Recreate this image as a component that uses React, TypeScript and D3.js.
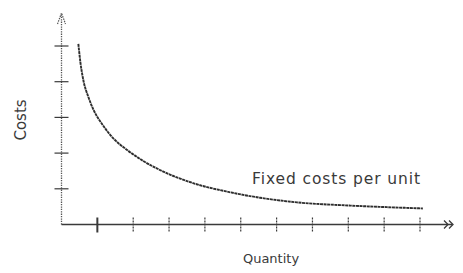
import { scaleLinear, line, curveMonotoneX, range } from 'd3'

const width = 463,
      height = 273,
      xLabel = 'Quantity',
      yLabel = 'Costs',
      seriesLabel = 'Fixed costs per unit'

// quantity ticks 1..10, cost ticks 1..5 (no numbers shown)
const xTicks = range(1, 11)
const yTicks = range(1, 6)

// points
const quantity = [0.47, 0.53, 0.61, 0.75, 0.89, 1.17, 1.44, 1.84, 2.28, 2.76, 3.67, 4.62, 5.54, 6.57, 8.05, 8.97, 10.08]
const unitCost = [5.06, 4.52, 4.04, 3.57, 3.22, 2.76, 2.42, 2.08, 1.78, 1.52, 1.16, 0.92, 0.75, 0.62, 0.53, 0.49, 0.45]

const xScale = scaleLinear().domain([0, 10]).range([61.5, 420])
const yScale = scaleLinear().domain([0, 5]).range([224.5, 46])

const ink = '#3a3a3a'

const YAxis = () => (
  <g>
    <line x1={xScale(0)} x2={xScale(0)} y1={yScale(0)} y2={15}
      stroke='#555' strokeWidth='1.3' strokeDasharray='1.3,1.1' />
    <path d={`M${xScale(0) - 4},24 L${xScale(0)},13 L${xScale(0) + 4},24`}
      fill='none' stroke='#555' strokeWidth='1.2' strokeDasharray='1.5,1' />
    {yTicks.map(t => (
      <line key={t} x1={xScale(0) - 7} x2={xScale(0) + 7} y1={yScale(t)} y2={yScale(t)}
        stroke={ink} strokeWidth='1.2' />
    ))}
  </g>
)

const XAxis = () => (
  <g>
    <line x1={xScale(0)} x2={452} y1={yScale(0)} y2={yScale(0)} stroke={ink} strokeWidth='1.3' />
    {xTicks.map((t, i) => (
      <line key={t} x1={xScale(t)} x2={xScale(t)} y1={yScale(0) - 7} y2={yScale(0) + 8}
        stroke={ink} strokeWidth={i === 0 ? 2 : 1.2} strokeDasharray={i === 0 ? undefined : '2,1'} />
    ))}
    <path d={`M444,${yScale(0) - 4} L448,${yScale(0)} L444,${yScale(0) + 4} M449,${yScale(0) - 4} L453,${yScale(0)} L449,${yScale(0) + 4}`}
      fill='none' stroke={ink} strokeWidth='1.3' />
  </g>
)

const Curve = () => {
  const pts = quantity.map((q, i) => [q, unitCost[i]] as [number, number])
  const path = line<[number, number]>()
    .x(d => xScale(d[0]))
    .y(d => yScale(d[1]))
    .curve(curveMonotoneX)(pts)
  return <path d={path ?? ''} fill='none' stroke='#2e2e2e' strokeWidth='1.9' strokeDasharray='3,0.6' />
}

export default function App() {
  return (
    <svg width={width} height={height}
      style={{ position: 'absolute', left: 0, top: 0, background: '#fff' }}>
      <YAxis />
      <XAxis />
      <Curve />
      <text x={252} y={184} fontFamily='DejaVu Sans' fontSize='15.5' letterSpacing='0.9' fill='#3a3a3a'>{seriesLabel}</text>
      <text x={271} y={263} textAnchor='middle' fontFamily='DejaVu Sans' fontSize='13' fill='#3a3a3a'>{xLabel}</text>
      <text transform='translate(26,120) rotate(-90)' textAnchor='middle' fontFamily='DejaVu Sans' fontSize='15' fill='#3a3a3a'>{yLabel}</text>
    </svg>
  )
}
